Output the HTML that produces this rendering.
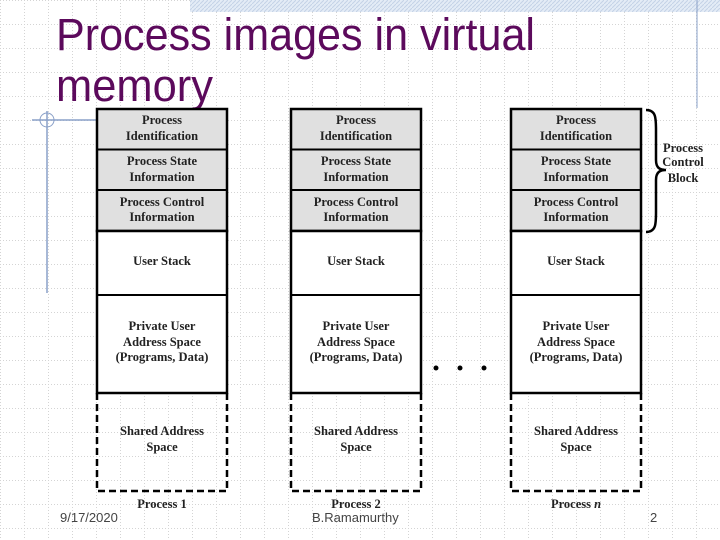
<!DOCTYPE html>
<html><head><meta charset="utf-8"><style>
body{margin:0;width:720px;height:540px;overflow:hidden;background:#fff;font-family:"Liberation Sans",sans-serif;}
</style></head><body>
<svg width="720" height="540" xmlns="http://www.w3.org/2000/svg" style="position:absolute;left:0;top:0">
<defs>
<pattern id="g" width="24" height="24" patternUnits="userSpaceOnUse">
<path d="M0 0.5H24M0.5 0V24" stroke="#d4d4d4" stroke-width="1" stroke-dasharray="1 2" fill="none"/>
</pattern>
<pattern id="h" width="4" height="4" patternUnits="userSpaceOnUse">
<rect width="4" height="4" fill="#e4ecf6"/><path d="M0 4L4 0" stroke="#c4d2e6" stroke-width="1"/>
</pattern>
</defs>
<rect width="720" height="540" fill="url(#g)"/>
<rect x="190" y="0" width="530" height="12" fill="url(#h)"/>
<line x1="697" y1="0" x2="697" y2="108" stroke="#8aa0c8" stroke-width="1"/>
<line x1="32" y1="120" x2="96" y2="120" stroke="#8aa0c8" stroke-width="1.5"/>
<circle cx="47" cy="120" r="7" fill="none" stroke="#8aa0c8" stroke-width="1"/>
<line x1="47" y1="111" x2="47" y2="293" stroke="#8aa0c8" stroke-width="1.5"/>
<text x="56" y="50" font-size="45" fill="#5c0a5c" textLength="479" lengthAdjust="spacingAndGlyphs" font-family="Liberation Sans, sans-serif">Process images in virtual</text>
<text x="56" y="101" font-size="45" fill="#5c0a5c" textLength="157" lengthAdjust="spacingAndGlyphs" font-family="Liberation Sans, sans-serif">memory</text>
<g font-family="Liberation Serif, serif" font-weight="bold" font-size="12.5" fill="#222" text-anchor="middle">
<g id="c1">
<rect x="97" y="109" width="130" height="122" fill="#e0e0e0" stroke="#000" stroke-width="2.5"/>
<line x1="97" y1="149.5" x2="227" y2="149.5" stroke="#000" stroke-width="2"/>
<line x1="97" y1="190" x2="227" y2="190" stroke="#000" stroke-width="2"/>
<rect x="97" y="231" width="130" height="162" fill="#fff" stroke="#000" stroke-width="2.5"/>
<line x1="97" y1="295" x2="227" y2="295" stroke="#000" stroke-width="2"/>
<path d="M97 393V491H227V393" fill="none" stroke="#000" stroke-width="2.5" stroke-dasharray="7 4"/>
<text x="162" y="124">Process</text><text x="162" y="140">Identification</text>
<text x="162" y="165">Process State</text><text x="162" y="181">Information</text>
<text x="162" y="206">Process Control</text><text x="162" y="221">Information</text>
<text x="162" y="265">User Stack</text>
<text x="162" y="330">Private User</text><text x="162" y="346">Address Space</text><text x="162" y="361">(Programs, Data)</text>
<text x="162" y="435">Shared Address</text><text x="162" y="451">Space</text>
</g>
<use href="#c1" x="194"/>
<use href="#c1" x="414"/>
<text x="162" y="508">Process 1</text>
<text x="356" y="508">Process 2</text>
<text x="576" y="508">Process <tspan font-style="italic">n</tspan></text>
<text x="683" y="152">Process</text><text x="683" y="166">Control</text><text x="683" y="182">Block</text>
</g>
<path d="M646 110C656 110 656 118 656 130V160C656 168 660 170 666 170C660 170 656 172 656 180V212C656 224 656 232 646 232" fill="none" stroke="#000" stroke-width="2.5"/>
<circle cx="436" cy="368" r="2.5" fill="#000"/><circle cx="460" cy="368" r="2.5" fill="#000"/><circle cx="484" cy="368" r="2.5" fill="#000"/>
<g font-family="Liberation Sans, sans-serif" font-size="13" fill="#444">
<text x="60" y="522">9/17/2020</text>
<text x="312" y="522">B.Ramamurthy</text>
<text x="650" y="522">2</text>
</g>
</svg>
</body></html>
